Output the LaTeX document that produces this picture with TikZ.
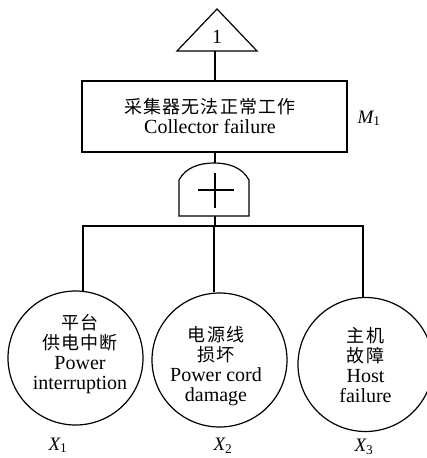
\documentclass[tikz,border=0pt]{standalone}
\usepackage{fontspec}
\setmainfont{Liberation Serif}
\newfontfamily\cjk{Noto Sans CJK SC}[LetterSpace=6]
\usetikzlibrary{shapes.geometric}
\newcommand\zh[1]{{\cjk\fontsize{18}{20}\selectfont #1}}
\begin{document}
\begin{tikzpicture}[x=1pt,y=-1pt,line width=1.2pt,
  evt/.style={ellipse,draw,minimum width=135pt,minimum height=134pt,inner sep=0pt},
  lbl/.style={align=center,inner sep=0pt,font=\fontsize{20}{20}\selectfont},
  sym/.style={inner sep=0pt,font=\fontsize{19}{19}\selectfont\itshape},
  boxst/.style={draw,line width=1.5pt,minimum width=265pt,minimum height=71pt,inner sep=0pt}]
\useasboundingbox (0,0) rectangle (426,458);
% transfer triangle
\draw (217,9) -- (257,51) -- (177,51) -- cycle;
\node[lbl] (one) at (217,37) {1};
\coordinate (tb) at (215,51);
% top event box
\node[boxst] (box) at (214.5,116.5) {};
\node[lbl] (boxtxt) at (210,116.5) {\zh{采集器无法正常工作}\\Collector failure};
\node[sym,anchor=base west] (m1) at (357,123) {M\textsubscript{\upshape 1}};
\draw (tb) -- (tb|-box.north);
% OR gate
\draw (179,216) -- (179,180) .. controls (186,167) and (200,163) .. (214,163)
      .. controls (228,163) and (242,167) .. (249,180) -- (249,216) -- cycle;
\draw (198,190) -- (234,190);
\draw (215,173) -- (215,208);
\coordinate (gt) at (215,163);
\coordinate (gb) at (215,216);
\draw (gt|-box.south) -- (gt);
% bus
\coordinate (bus) at (215,226);
\coordinate (busl) at (82,226);
\coordinate (busr) at (364,226);
\draw (gb) -- (bus);
\draw (busl) -- (busr);
% basic events
\node[evt] (x1) at (75.5,358) {};
\node[evt] (x2) at (219.5,360) {};
\node[evt] (x3) at (365.5,364.5) {};
\node[lbl] (t1) at (80,354) {\zh{平台}\\\zh{供电中断}\\Power\\interruption};
\node[lbl] (t2) at (216,366.5) {\zh{电源线}\\\zh{损坏}\\Power cord\\damage};
\node[lbl] (t3) at (365.5,365.5) {\zh{主机}\\\zh{故障}\\Host\\failure};
\draw (83,226) -- (83,292.4);
\draw (214,226) -- (x2.north-|214,0);
\draw (363,226) -- (363,297);
% labels
\node[sym,anchor=base west] (lx1) at (48,450) {X\textsubscript{\upshape 1}};
\node[sym,anchor=base west] (lx2) at (213,450.5) {X\textsubscript{\upshape 2}};
\node[sym,anchor=base west] (lx3) at (354,451.5) {X\textsubscript{\upshape 3}};
\end{tikzpicture}
\end{document}
